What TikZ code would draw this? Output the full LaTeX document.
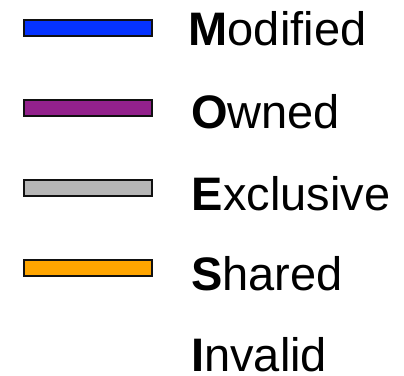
\documentclass[tikz,border=0pt]{standalone}
\usepackage{fontspec}
\setmainfont{Liberation Sans}
\definecolor{stM}{RGB}{5,51,255}
\definecolor{stO}{RGB}{147,33,140}
\definecolor{stE}{RGB}{182,182,182}
\definecolor{stS}{RGB}{255,165,0}
\definecolor{edge}{RGB}{17,17,17}
\begin{document}
\begin{tikzpicture}[x=1pt,y=-1pt,
  swatch/.style={draw=edge,line width=2pt},
  label/.style={anchor=base west,inner sep=0pt,font=\fontsize{47}{52}\selectfont}]
\useasboundingbox (0,0) rectangle (404,375);
% colour swatches
\draw[swatch,fill=stM] (24,20) rectangle (152,36) coordinate (bM);
\draw[swatch,fill=stO] (24,100) rectangle (152,116) coordinate (bO);
\draw[swatch,fill=stE] (24,180) rectangle (152,196) coordinate (bE);
\draw[swatch,fill=stS] (24,260) rectangle (152,276) coordinate (bS);
% state names
\node[label] (tM) at (188.5,45.5) {\textbf{M}odified};
\node[label] (tO) at (191,128.5) {\textbf{O}wned};
\node[label] (tE) at (191.5,210) {\textbf{E}xclusive};
\node[label] (tS) at (191,290.5) {\textbf{S}hared};
\node[label] (tI) at (191,371) {\textbf{I}nvalid};
\end{tikzpicture}
\end{document}
